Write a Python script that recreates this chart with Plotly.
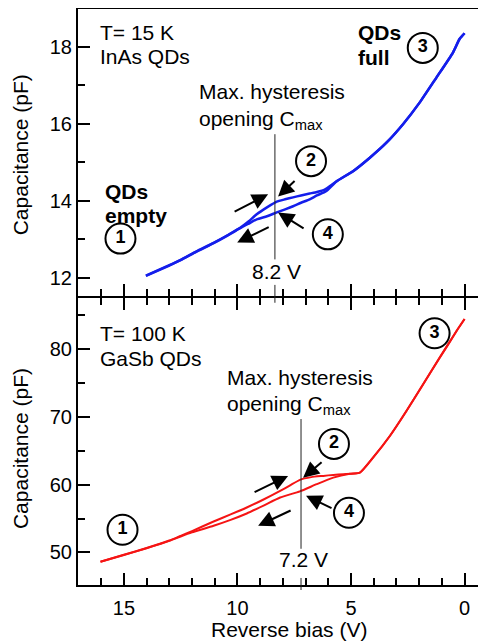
import plotly.graph_objects as go

# ---------------- data ----------------
# Top panel: InAs QDs, T = 15 K (blue)
inas_up_v = [14.03, 13.0, 12.5, 11.8, 11.05, 10.4, 9.88, 9.5, 9.15, 8.7, 8.27, 7.9, 7.55, 7.2, 6.82, 6.5, 6.16,
             5.63, 4.91, 4.17, 3.44, 2.71, 1.98, 1.24, 0.51, 0.22, 0.0]
inas_up_c = [12.06, 12.33, 12.47, 12.69, 12.91, 13.12, 13.30, 13.47, 13.65, 13.83, 13.98, 14.04, 14.09, 14.14, 14.19,
             14.23, 14.29, 14.51, 14.77, 15.12, 15.51, 15.99, 16.55, 17.20, 17.85, 18.20, 18.35]
inas_down_v = [0.0, 0.22, 0.51, 1.24, 1.98, 2.71, 3.44, 4.17, 4.91, 5.63, 6.1, 6.5, 6.82, 7.2, 7.55, 7.9, 8.27, 8.7,
               9.15, 9.5, 9.88, 10.4, 11.05, 11.8, 12.5, 13.0, 14.03]
inas_down_c = [18.35, 18.20, 17.85, 17.20, 16.55, 15.99, 15.51, 15.12, 14.77, 14.51, 14.25, 14.14, 14.04, 13.95,
               13.86, 13.78, 13.70, 13.60, 13.52, 13.41, 13.29, 13.11, 12.90, 12.68, 12.46, 12.32, 12.05]

# Bottom panel: GaSb QDs, T = 100 K (red)
gasb_up_v = [16.03, 15.0, 14.0, 13.0, 12.5, 12.0, 11.05, 10.3, 9.59, 8.85, 8.12, 7.7, 7.25, 6.75, 6.22, 5.78,
             5.34, 4.61, 4.03, 3.29, 2.56, 1.83, 1.10, 0.66, 0.36, 0.0]
gasb_up_c = [48.63, 49.65, 50.65, 51.75, 52.45, 53.15, 54.56, 55.6, 56.62, 57.80, 59.07, 59.85, 60.70, 61.10,
             61.28, 61.43, 61.53, 61.76, 63.97, 67.16, 70.84, 74.76, 78.68, 81.00, 82.60, 84.40]
gasb_down_v = [0.0, 0.36, 0.66, 1.10, 1.83, 2.56, 3.29, 4.03, 4.61, 5.05, 5.78, 6.51, 7.25, 8.12, 8.85, 9.59,
               10.3, 11.05, 12.0, 12.5, 13.0, 14.0, 15.0, 16.03]
gasb_down_c = [84.40, 82.60, 81.00, 78.68, 74.76, 70.84, 67.16, 63.97, 61.76, 61.60, 61.03, 60.06, 59.00, 58.09,
               56.90, 55.74, 54.80, 53.93, 52.95, 52.35, 51.70, 50.62, 49.62, 48.63]

# numbered state markers (V, C, label)
top_states_v = [15.15, 6.76, 1.84, 6.02]
top_states_c = [13.02, 15.03, 17.97, 13.13]
bot_states_v = [15.06, 5.75, 1.32, 5.09]
bot_states_c = [53.34, 65.99, 82.30, 55.84]
state_labels = ["1", "2", "3", "4"]

# max hysteresis positions
vmax_top, vmax_top_label = 8.35, "8.2 V"
vmax_bot, vmax_bot_label = 7.2, "7.2 V"

x_ticks = [15, 10, 5, 0]

FONT = "Liberation Sans, Arial, Helvetica, sans-serif"
BLUE = "rgb(20,30,235)"
RED = "rgb(245,20,20)"

fig = go.Figure()

# curves
for v, c in [(inas_up_v, inas_up_c), (inas_down_v, inas_down_c)]:
    fig.add_trace(go.Scatter(x=v, y=c, mode="lines", line=dict(color=BLUE, width=2.5, shape="spline", smoothing=0.5),
                             xaxis="x2", yaxis="y2", showlegend=False, hoverinfo="skip"))
for v, c in [(gasb_up_v, gasb_up_c), (gasb_down_v, gasb_down_c)]:
    fig.add_trace(go.Scatter(x=v, y=c, mode="lines", line=dict(color=RED, width=2, shape="spline", smoothing=0.5),
                             xaxis="x", yaxis="y", showlegend=False, hoverinfo="skip"))

# numbered circles
circ = dict(mode="markers+text", marker=dict(size=30, color="white", line=dict(color="black", width=2)),
            textfont=dict(family=FONT, size=18, color="black", weight="bold"), textposition="middle center",
            showlegend=False, hoverinfo="skip", cliponaxis=False)
fig.add_trace(go.Scatter(x=top_states_v, y=top_states_c, text=state_labels, xaxis="x2", yaxis="y2", **circ))
fig.add_trace(go.Scatter(x=bot_states_v, y=bot_states_c, text=state_labels, xaxis="x", yaxis="y", **circ))

ann = []
def txt(x, y, s, xr, yr, bold=False, xanchor="left", size=21):
    ann.append(dict(x=x, y=y, xref=xr, yref=yr, text=s, showarrow=False, xanchor=xanchor, yanchor="middle",
                    font=dict(family=FONT, size=size, color="black", weight="bold" if bold else "normal")))

def arrow(x, y, ax, ay, xr, yr):
    ann.append(dict(x=x, y=y, xref=xr, yref=yr, ax=ax, ay=ay, text="", showarrow=True, arrowhead=2,
                    arrowsize=1.6, arrowwidth=2, arrowcolor="black"))

# top panel texts
txt(16.16, 18.38, "T= 15 K", "x2", "y2")
txt(16.16, 17.76, "InAs QDs", "x2", "y2")
txt(11.77, 16.85, "Max. hysteresis", "x2", "y2")
txt(11.77, 16.09, "opening C<sub>max</sub>", "x2", "y2")
txt(15.94, 14.24, "QDs", "x2", "y2", bold=True)
txt(15.94, 13.62, "empty", "x2", "y2", bold=True)
txt(4.79, 18.36, "QDs", "x2", "y2", bold=True)
txt(4.79, 17.73, "full", "x2", "y2", bold=True)
txt(8.26, 12.16, vmax_top_label, "x2", "y2", xanchor="center")
arrow(8.21, 14.11, 18, -17, "x2", "y2")
arrow(8.21, 13.70, 27, 17, "x2", "y2")
arrow(8.65, 14.17, -35, 18, "x2", "y2")
arrow(10.01, 12.92, 33, -16, "x2", "y2")

# bottom panel texts
txt(16.16, 82.31, "T= 100 K", "x", "y")
txt(16.16, 78.63, "GaSb QDs", "x", "y")
txt(10.54, 75.84, "Max. hysteresis", "x", "y")
txt(10.54, 71.72, "opening C<sub>max</sub>", "x", "y")
txt(7.11, 48.93, vmax_bot_label, "x", "y", xanchor="center")
arrow(7.11, 60.99, 20, -17, "x", "y")
arrow(6.98, 58.34, 27, 13, "x", "y")
arrow(7.77, 61.28, -35, 17, "x", "y")
arrow(9.09, 53.93, 34, -16, "x", "y")

# axis titles
title_font = dict(family=FONT, size=21, color="black")
ann.append(dict(x=-0.1425, y=0.746, xref="paper", yref="paper", text="Capacitance (pF)", textangle=-90,
                xanchor="center", yanchor="middle", showarrow=False, font=title_font))
ann.append(dict(x=-0.1425, y=0.236, xref="paper", yref="paper", text="Capacitance (pF)", textangle=-90,
                xanchor="center", yanchor="middle", showarrow=False, font=title_font))
ann.append(dict(x=0.518, y=-0.078, xref="paper", yref="paper", text="Reverse bias (V)",
                xanchor="center", yanchor="middle", showarrow=False, font=title_font))

shapes = [
    dict(type="line", xref="x2", yref="y2", x0=vmax_top, x1=vmax_top, y0=15.73, y1=12.48,
         line=dict(color="#222", width=1)),
    dict(type="line", xref="x2", yref="paper", x0=vmax_top, x1=vmax_top, y0=0.521, y1=0.49,
         line=dict(color="#222", width=1)),
    dict(type="line", xref="x", yref="y", x0=vmax_bot, x1=vmax_bot, y0=69.66, y1=50.54,
         line=dict(color="#222", width=1)),
    dict(type="line", xref="x", yref="paper", x0=vmax_bot, x1=vmax_bot, y0=0.0122, y1=-0.0087,
         line=dict(color="#222", width=1)),
]

xr = [17.02, -0.9]
axis_common = dict(showline=True, linecolor="black", linewidth=2, ticks="inside", tickcolor="black",
                   tickwidth=2, showgrid=False, zeroline=False, automargin=False,
                   tickfont=dict(family=FONT, size=20, color="black"))
half_px = 1 / 576  # so the shared middle frame line is drawn once

# figure is 8 px smaller than the window to allow for the page's default body margin
fig.update_layout(
    width=478, height=633, margin=dict(l=70, r=1, t=1, b=56, autoexpand=False),
    paper_bgcolor="white", plot_bgcolor="white",
    annotations=ann, shapes=shapes,
    xaxis=dict(domain=[0, 1], range=xr, anchor="y", tickvals=x_ticks, ticklen=12, mirror="ticks",
               minor=dict(dtick=1, ticks="inside", ticklen=7, tickwidth=2, tickcolor="black", showgrid=False),
               ticklabelstandoff=4, **axis_common),
    yaxis=dict(domain=[0, 0.5 - half_px], range=[45.2, 87.5], anchor="x", dtick=10, ticklen=12,
               minor=dict(dtick=5, ticks="inside", ticklen=7, tickwidth=2, tickcolor="black", showgrid=False),
               **axis_common),
    xaxis2=dict(domain=[0, 1], range=xr, anchor="y2", tickvals=x_ticks, ticklen=12, mirror=True,
                showticklabels=False,
                minor=dict(dtick=1, ticks="inside", ticklen=7, tickwidth=2, tickcolor="black", showgrid=False),
                **axis_common),
    yaxis2=dict(domain=[0.5 + half_px, 1], range=[11.53, 18.98], anchor="x2", dtick=2, ticklen=12, mirror=True,
                minor=dict(dtick=1, ticks="inside", ticklen=7, tickwidth=2, tickcolor="black", showgrid=False),
                **axis_common),
)

fig.write_html("out.html")
